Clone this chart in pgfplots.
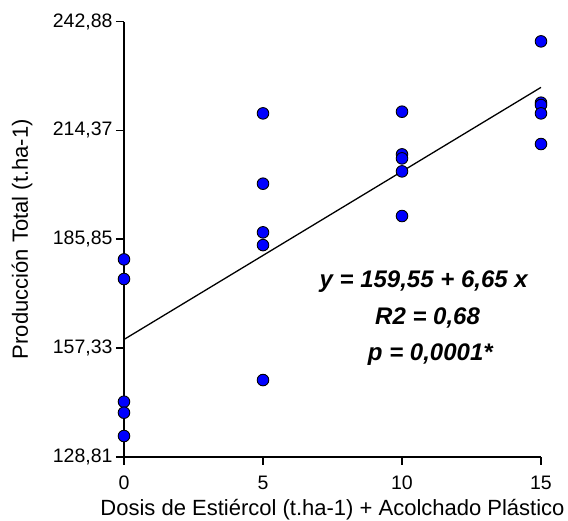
\documentclass[border=0pt]{standalone}
\usepackage{pgfplots}
\pgfplotsset{compat=1.18}
\usepackage{fontspec}
\setmainfont{Liberation Sans}

% Producción total por dosis de estiércol (cinco repeticiones por dosis)
\pgfplotstableread{
x y
0 180.55
0 175.40
0 143.23
0 140.35
0 134.23
5 218.84
5 200.40
5 187.64
5 184.30
5 148.91
10 219.28
10 208.09
10 207.04
10 203.63
10 191.92
15 237.72
15 221.64
15 221.03
15 218.84
15 210.80
}\datos

\pgfplotstableread{
x y
0 159.55
15 225.66
}\recta

\begin{document}
\begin{tikzpicture}
\useasboundingbox (-124pt,-63.3pt) rectangle (444pt,456.7pt);
\begin{axis}[
  at={(0,0)}, anchor=south west,
  scale only axis, width=417pt, height=435pt,
  xmin=0, xmax=15, ymin=128.81, ymax=242.88,
  axis x line*=bottom, axis y line*=left,
  axis line style={line width=1.6pt},
  xtick={0,5,10,15},
  ytick={128.81,157.33,185.85,214.37,242.88},
  yticklabels={{128,81},{157,33},{185,85},{214,37},{242,88}},
  tick align=outside, major tick length=8pt,
  tick style={black, line width=1.6pt},
  tick label style={font=\fontsize{19.5}{23}\selectfont},
  xticklabel style={yshift=-8pt},
  /pgf/number format/assume math mode=true,
  xlabel={Dosis de Estiércol (t.ha-1) + Acolchado Plástico},
  ylabel={Producción Total (t.ha-1)},
  label style={font=\fontsize{22}{26}\selectfont},
  xlabel style={at={(axis description cs:0.5,0)}, anchor=center, yshift=-53pt},
  ylabel style={at={(axis description cs:0,0.5)}, anchor=center, yshift=102pt},
  clip=false,
]
\addplot[black, line width=1.3pt] table[x=x, y=y] {\recta};
\addplot[only marks, mark=*, mark size=5.8pt,
  mark options={fill=blue, draw=black, line width=0.9pt}] table[x=x, y=y] {\datos};
\node[font=\fontsize{24}{28}\selectfont\bfseries\itshape] at (axis cs:10.78,174.69) {y = 159,55 + 6,65 x};
\node[font=\fontsize{24}{28}\selectfont\bfseries\itshape] at (axis cs:10.92,165.09) {R2 = 0,68};
\node[font=\fontsize{24}{28}\selectfont\bfseries\itshape] at (axis cs:11.02,155.47) {p = 0,0001*};
\end{axis}
\end{tikzpicture}
\end{document}
